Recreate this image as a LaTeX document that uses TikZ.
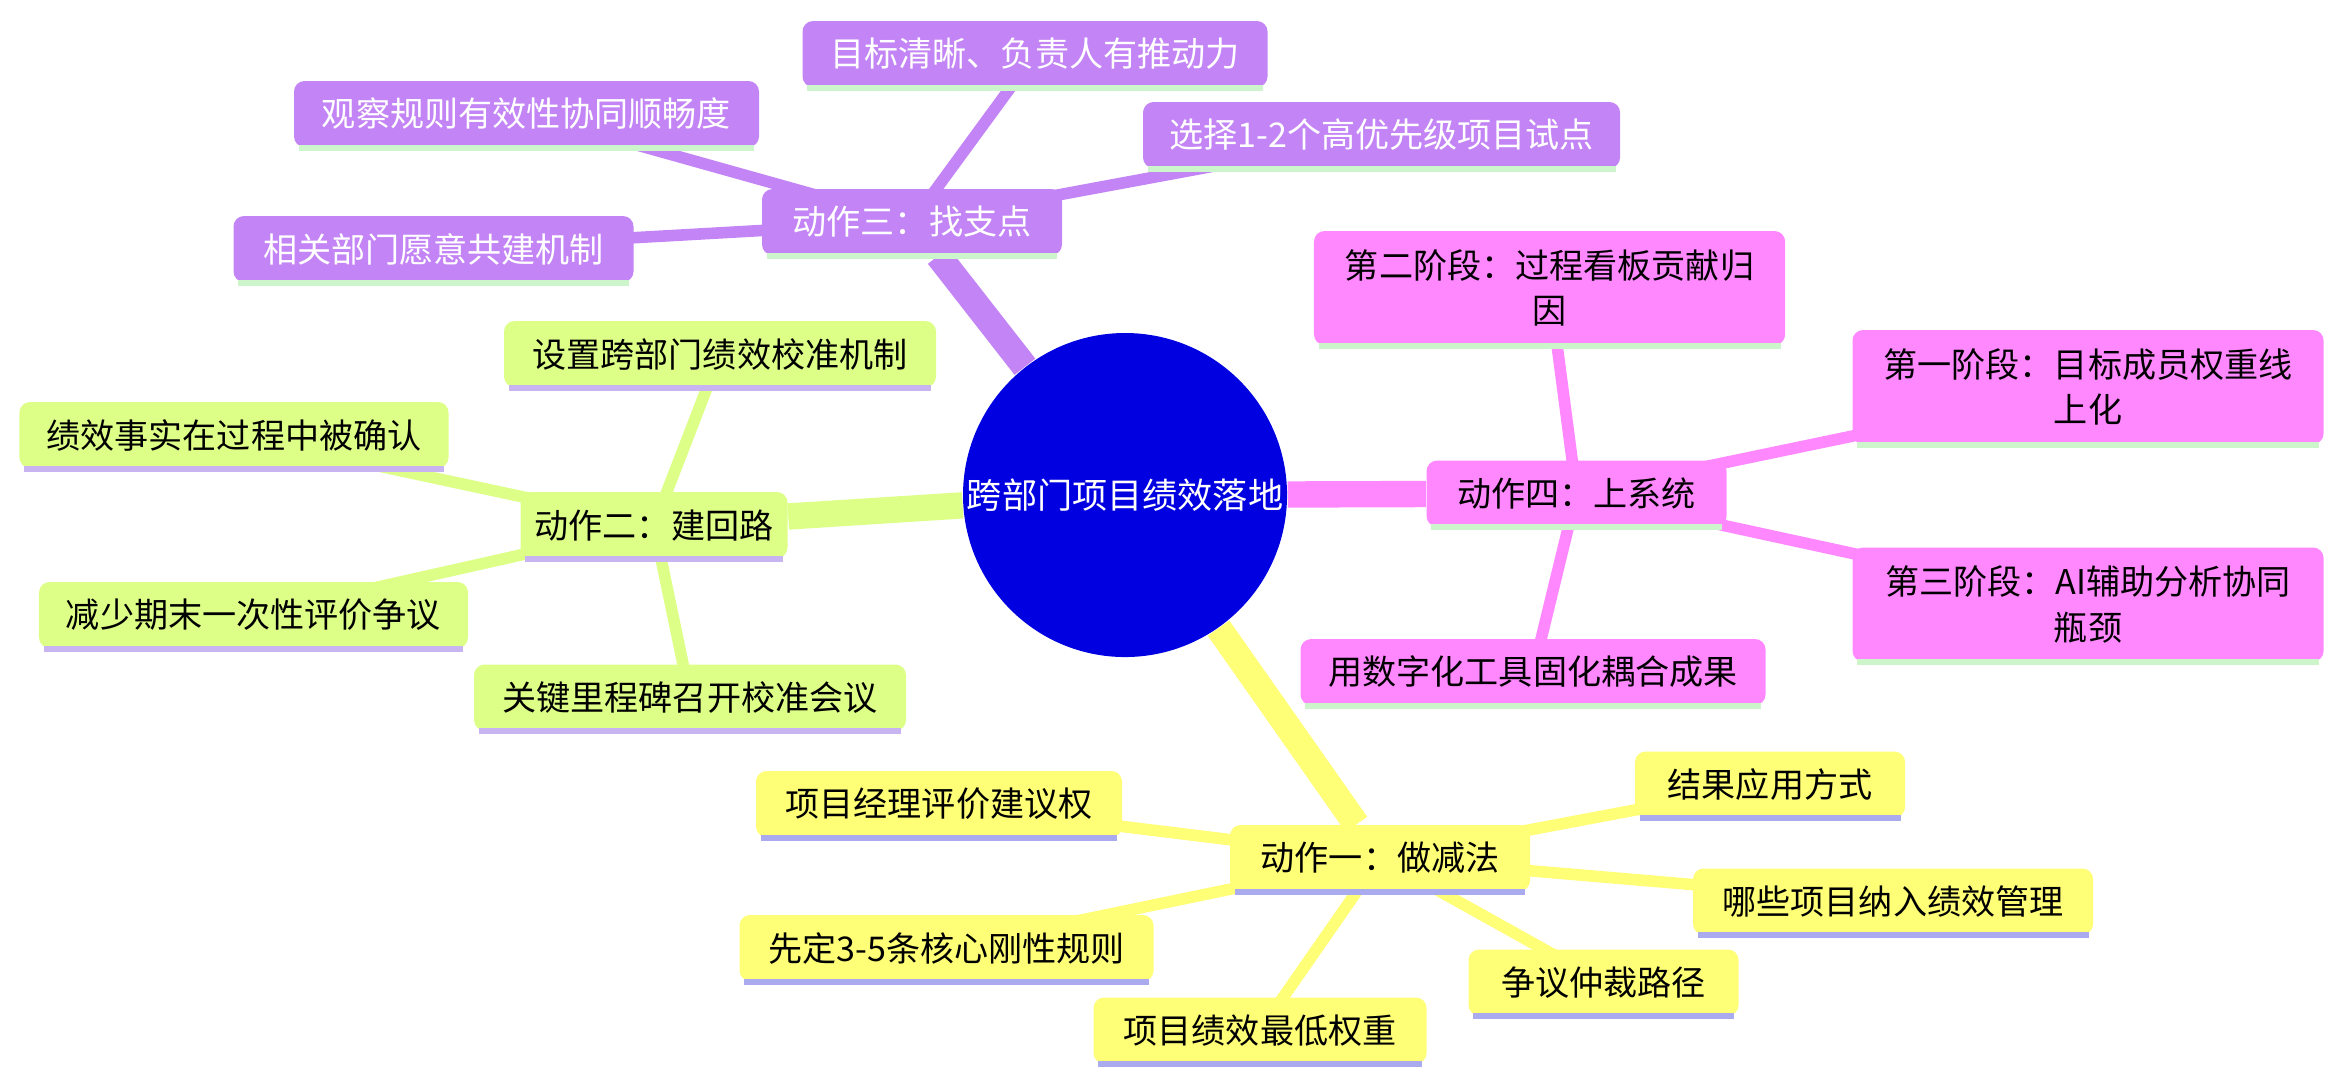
\documentclass[tikz,border=0pt]{standalone}
\usepackage{fontspec}
\setmainfont{Noto Sans CJK SC}
\usetikzlibrary{positioning, backgrounds}
\definecolor{hubblue}{HTML}{0000E0}
\definecolor{purp}{HTML}{C384F5}
\definecolor{pink}{HTML}{FF88FF}
\definecolor{lime}{HTML}{DDFF88}
\definecolor{yel}{HTML}{FFFF77}
\definecolor{ulgreen}{HTML}{CCF5CC}
\definecolor{ullav}{HTML}{C8B4F0}
\definecolor{ulblue}{HTML}{AAAAEE}
\begin{document}
\begin{tikzpicture}[x=0.015cm, y=-0.015cm,
  box/.style={rectangle, rounded corners=3pt, minimum height=0.66cm, inner sep=3pt,
    font=\fontsize{9.7}{12.9}\selectfont, align=center},
  purpbox/.style={box, fill=purp, text=white},
  pinkbox/.style={box, fill=pink},
  limebox/.style={box, fill=lime},
  yelbox/.style={box, fill=yel},
  mainedge/.style={line width=7.5pt},
  subedge/.style={line width=3.3pt}]
\useasboundingbox (0,0) rectangle (1565.3,720.7);
\node (hub) [circle, fill=hubblue, text=white, minimum size=3.24cm, inner sep=0pt,
  font=\fontsize{10}{13}\selectfont] at (750,330) {跨部门项目绩效落地};
% action three
\node (a3) [purpbox, minimum width=3cm] at (608,148) {动作三：找支点};
\node (a3t) [purpbox, minimum width=4.65cm] at (690,36) {目标清晰、负责人有推动力};
\node (a3l) [purpbox, minimum width=4.65cm] at (351,76) {观察规则有效性协同顺畅度};
\node (a3r) [purpbox, minimum width=4.77cm] at (921,90) {选择1-2个高优先级项目试点};
\node (a3b) [purpbox, minimum width=4cm] at (289,166) {相关部门愿意共建机制};
% action four
\node (a4) [pinkbox, minimum width=3cm] at (1051,329) {动作四：上系统};
\node (a4t) [pinkbox, text width=4.5cm, minimum height=1.14cm] at (1033,192) {第二阶段：过程看板贡献归\\因};
\node (a4r) [pinkbox, text width=4.5cm, minimum height=1.14cm] at (1392,258) {第一阶段：目标成员权重线\\上化};
\node (a4s) [pinkbox, text width=4.5cm, minimum height=1.14cm] at (1392,403) {第三阶段：AI辅助分析协同\\瓶颈};
\node (a4b) [pinkbox, minimum width=4.65cm] at (1022,448) {用数字化工具固化耦合成果};
% action two
\node (a2) [limebox, minimum width=2.67cm] at (436,350) {动作二：建回路};
\node (a2t) [limebox, minimum width=4.32cm] at (480,236) {设置跨部门绩效校准机制};
\node (a2l) [limebox, minimum width=4.29cm] at (156,290) {绩效事实在过程中被确认};
\node (a2s) [limebox, minimum width=4.29cm] at (169,410) {减少期末一次性评价争议};
\node (a2b) [limebox, minimum width=4.32cm] at (460,465) {关键里程碑召开校准会议};
% action one
\node (a1) [yelbox, minimum width=3cm] at (920,572) {动作一：做减法};
\node (a1a) [yelbox, minimum width=2.7cm] at (1180,523) {结果应用方式};
\node (a1b) [yelbox, minimum width=3.66cm] at (626,536) {项目经理评价建议权};
\node (a1c) [yelbox, minimum width=4cm] at (1262,601) {哪些项目纳入绩效管理};
\node (a1d) [yelbox, minimum width=4.14cm] at (631,632) {先定3-5条核心刚性规则};
\node (a1e) [yelbox, minimum width=2.7cm] at (1069,655) {争议仲裁路径};
\node (a1f) [yelbox, minimum width=3.33cm] at (840,687) {项目绩效最低权重};
\begin{scope}[on background layer]
\draw [purp, mainedge] (hub) -- (a3);
\draw [pink, mainedge] (hub) -- (a4);
\draw [lime, mainedge] (hub) -- (a2);
\draw [yel, mainedge] (hub) -- (a1);
\foreach \n in {a3t, a3l, a3r, a3b} \draw [purp, subedge] (a3.center) -- (\n.center);
\foreach \n in {a4t, a4r, a4s, a4b} \draw [pink, subedge] (a4.center) -- (\n.center);
\foreach \n in {a2t, a2l, a2s, a2b} \draw [lime, subedge] (a2.center) -- (\n.center);
\foreach \n in {a1a, a1b, a1c, a1d, a1e, a1f} \draw [yel, subedge] (a1.center) -- (\n.center);
\end{scope}
% underlines
\foreach \n/\c in {a3/ulgreen, a3t/ulgreen, a3l/ulgreen, a3r/ulgreen, a3b/ulgreen,
  a4/ulgreen, a4t/ulgreen, a4r/ulgreen, a4s/ulgreen, a4b/ulgreen,
  a2/ullav, a2t/ullav, a2l/ullav, a2s/ullav, a2b/ullav,
  a1/ulblue, a1a/ulblue, a1b/ulblue, a1c/ulblue, a1d/ulblue, a1e/ulblue, a1f/ulblue}
  \draw [\c, line width=1.6pt] ([xshift=1.5pt]\n.south west) -- ([xshift=-1.5pt]\n.south east);
\end{tikzpicture}
\end{document}
